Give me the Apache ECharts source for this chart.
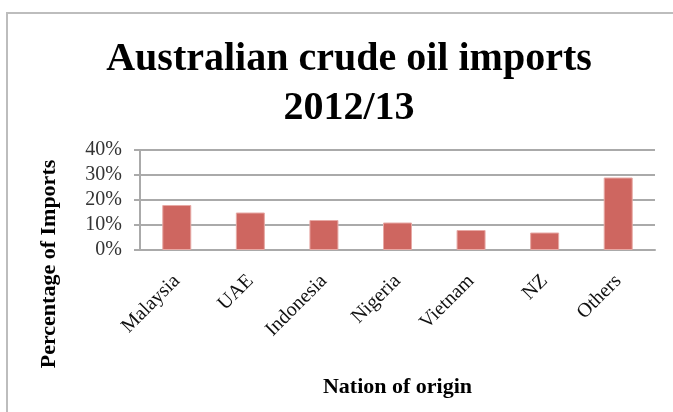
<!DOCTYPE html>
<html lang="en">
<head>
    <meta charset="UTF-8">
    <title>Australian crude oil imports 2012/13</title>
    <script src="https://cdn.jsdelivr.net/npm/echarts@6/dist/echarts.min.js"></script>
    <style>
        html, body { margin: 0; padding: 0; background: #fff; }
        #chart { width: 673px; height: 412px; }
    </style>
</head>
<body>
<div id="chart"></div>
<script type="text/javascript">
    // data
    var nations = ['Malaysia', 'UAE', 'Indonesia', 'Nigeria', 'Vietnam', 'NZ', 'Others'];
    var shares = [18, 15, 12, 11, 8, 7, 29];
    var yTicks = [0, 10, 20, 30, 40];

    var serif = '"Liberation Serif", "DejaVu Serif", serif';

    var option = {
        animation: false,
        title: {
            text: 'Australian crude oil imports\n2012/13',
            left: 344,
            top: 30,
            textAlign: 'center',
            textStyle: {
                fontFamily: serif,
                fontWeight: 'bold',
                fontSize: 40,
                lineHeight: 49,
                color: '#000'
            }
        },
        graphic: [
            {
                type: 'rect',
                shape: { x: 7, y: 13, width: 720, height: 460 },
                style: { fill: 'none', stroke: '#bdbdbd', lineWidth: 2 },
                silent: true
            },
            {
                type: 'text',
                x: 49,
                y: 264,
                rotation: Math.PI / 2,
                style: {
                    text: 'Percentage of Imports',
                    fontFamily: serif,
                    fontWeight: 'bold',
                    fontSize: 22,
                    fill: '#000',
                    textAlign: 'center',
                    textVerticalAlign: 'middle'
                }
            }
        ],
        grid: {
            left: 140,
            right: 18,
            top: 150,
            bottom: 162
        },
        xAxis: {
            type: 'category',
            data: nations,
            name: 'Nation of origin',
            nameLocation: 'middle',
            nameGap: 126,
            nameTextStyle: {
                fontFamily: serif,
                fontWeight: 'bold',
                fontSize: 22,
                color: '#000'
            },
            axisLine: { lineStyle: { color: '#aaaaaa', width: 2 } },
            axisTick: { show: false },
            axisLabel: {
                rotate: 45,
                margin: 28,
                interval: 0,
                fontFamily: serif,
                fontSize: 20,
                color: '#111'
            }
        },
        yAxis: {
            type: 'value',
            min: yTicks[0],
            max: yTicks[yTicks.length - 1],
            interval: 10,
            axisLine: { show: true, lineStyle: { color: '#aaaaaa', width: 2 } },
            axisTick: { show: true, length: 6, lineStyle: { color: '#aaaaaa', width: 2 } },
            splitLine: { lineStyle: { color: '#aaaaaa', width: 2 } },
            axisLabel: {
                formatter: '{value}%',
                margin: 18,
                fontFamily: serif,
                fontSize: 20,
                color: '#333'
            }
        },
        series: [
            {
                type: 'bar',
                data: shares,
                barWidth: 29,
                itemStyle: {
                    color: '#ce6660',
                    borderColor: '#e7a9a5',
                    borderWidth: 1
                }
            }
        ]
    };

    var myChart = echarts.init(document.getElementById('chart'));
    myChart.setOption(option);
</script>
</body>
</html>
